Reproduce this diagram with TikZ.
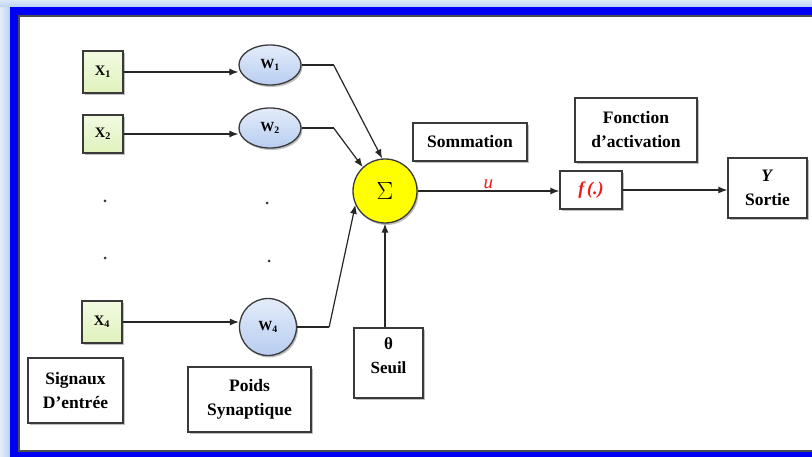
\documentclass[tikz,border=0pt]{standalone}
\usepackage{fontspec}
\setmainfont{Liberation Serif}
\usetikzlibrary{arrows.meta,shapes.geometric,shadows}

\definecolor{frameblue}{HTML}{0000F4}
\definecolor{glowblue}{HTML}{B9D3F2}
\definecolor{edgegray}{HTML}{3A3A3A}
\definecolor{inputgreen}{HTML}{E0F2BC}
\definecolor{inputgreenlight}{HTML}{F2FAE2}
\definecolor{weightblue}{HTML}{B7CDF0}
\definecolor{weightbluelight}{HTML}{E4ECFA}
\definecolor{sumyellow}{HTML}{FFFF00}
\definecolor{signalred}{HTML}{F01818}

\tikzset{
  softshadow/.style={drop shadow={shadow xshift=1.5pt, shadow yshift=-2pt, opacity=0.25, fill=black}},
  labelbox/.style={draw=edgegray, line width=1.4pt, fill=white, inner sep=0pt,
    align=center, font=\fontsize{17.5}{24}\selectfont\bfseries, softshadow},
  inputbox/.style={draw=edgegray, line width=1.3pt, inner sep=0pt,
    top color=inputgreenlight, bottom color=inputgreen,
    minimum width=40pt, font=\fontsize{14.5}{16}\selectfont\bfseries, softshadow},
  weight/.style={ellipse, draw=edgegray, line width=1.3pt, inner sep=0pt,
    top color=weightbluelight, bottom color=weightblue,
    font=\fontsize{14}{16}\selectfont\bfseries, softshadow},
  summer/.style={circle, draw=edgegray, line width=1.3pt, fill=sumyellow,
    minimum size=64pt, inner sep=0pt, font=\fontsize{24}{26}\selectfont, softshadow},
  link/.style={draw=black!85, line width=1.2pt, -{Latex[length=9pt,width=7pt]}},
  wire/.style={draw=black!85, line width=1.2pt}
}

\begin{document}
\begin{tikzpicture}[x=1pt,y=-1pt]
\useasboundingbox (0,0) rectangle (812,457);

% window frame: glow, blue border, white canvas
\fill[glowblue] (0,0) rectangle (812,457);
\fill[left color=glowblue!40, right color=glowblue] (0,0) rectangle (10,457);
\fill[top color=glowblue!50, bottom color=glowblue] (0,0) rectangle (812,7);
\fill[frameblue] (10,7) rectangle (812,457);
\fill[white] (19,16) rectangle (812,451);
\draw[edgegray!90, line width=1.2pt] (812,16) -- (19,16) -- (19,451) -- (812,451);

% inputs
\node[inputbox, minimum height=42pt] (x1) at (103,72) {X\textsubscript{1}};
\node[inputbox, minimum height=38pt] (x2) at (103,134) {X\textsubscript{2}};
\node[inputbox, minimum height=42pt] (xn) at (102,322) {X\textsubscript{4}};

% synaptic weights
\node[weight, minimum width=62pt, minimum height=40pt] (w1) at (270,65) {W\textsubscript{1}};
\node[weight, minimum width=62pt, minimum height=40pt] (w2) at (270,128) {W\textsubscript{2}};
\node[weight, minimum width=57pt, minimum height=57pt] (wn) at (268,327) {W\textsubscript{4}};

% ellipsis dots
\fill[black!80] (105,201) circle (1.5pt);
\fill[black!80] (105,258) circle (1.5pt);
\fill[black!80] (267,203) circle (1.5pt);
\fill[black!80] (269,261) circle (1.5pt);

% summation, threshold, activation, output
\node[summer] (sum) at (385,191) {$\Sigma$};
\node[labelbox, minimum width=69pt, minimum height=70pt] (seuil) at (388.5,363) {};
\node[font=\fontsize{17}{24}\selectfont\bfseries, align=center] (seuiltext) at (388.5,356) {θ\\Seuil};
\node[labelbox, minimum width=62pt, minimum height=38pt, font=\fontsize{18}{20}\selectfont\bfseries\itshape, text=signalred] (act) at (591,190) {f\,(.)};
\node[labelbox, minimum width=79pt, minimum height=60pt] (out) at (767.5,188) {\textit{Y}\\Sortie};

% caption boxes
\node[labelbox, minimum width=114pt, minimum height=38pt] (somm) at (470,142) {Sommation};
\node[labelbox, minimum width=122pt, minimum height=64pt] (fonc) at (636,130) {Fonction\\d’activation};
\node[labelbox, minimum width=95pt, minimum height=65pt] (signaux) at (75.5,390.5) {Signaux\\D’entrée};
\node[labelbox, minimum width=123pt, minimum height=65pt] (poids) at (249.5,399.5) {Poids\\Synaptique};

% connections
\draw[link] (x1.east) -- (w1.west |- x1.east);
\draw[link] (x2.east) -- (w2.west |- x2.east);
\draw[link] (xn.east) -- (wn.west |- xn.east);
\draw[wire] (w1.east) -- ++(32,0) coordinate (b1);
\draw[link] (b1) -- (sum.95);
\draw[wire] (w2.east) -- ++(32,0) coordinate (b2);
\draw[link] (b2) -- (sum.133);
\draw[wire] (wn.east) -- ++(32,0) coordinate (bn);
\draw[link] (bn) -- (sum.205);
\draw[link] (seuil.north -| sum.south) -- (sum.south);
\draw[link] (sum.east) -- (act.west |- sum.east)
  node[midway, above=-2pt, text=signalred, font=\fontsize{19}{21}\selectfont\itshape] (ulabel) {u};
\draw[link] (act.east) -- (out.west |- act.east);
\end{tikzpicture}
\end{document}
